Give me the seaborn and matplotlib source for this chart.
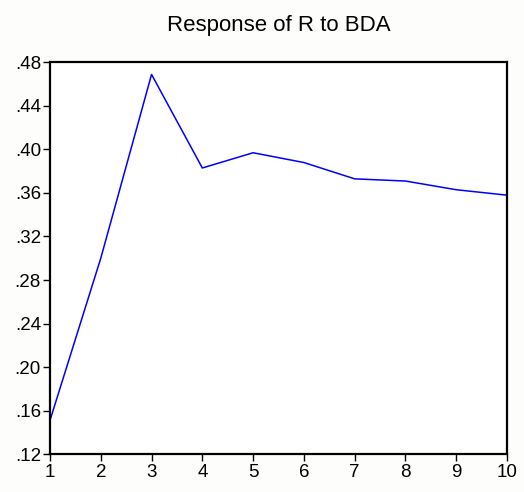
import matplotlib
matplotlib.use('Agg')
import matplotlib.pyplot as plt
import seaborn as sns
import pandas as pd

# Impulse response values
periods = [1, 2, 3, 4, 5, 6, 7, 8, 9, 10]
response = [0.151, 0.300, 0.469, 0.383, 0.397, 0.388, 0.373, 0.371, 0.363, 0.358]
y_ticks = [0.12, 0.16, 0.20, 0.24, 0.28, 0.32, 0.36, 0.40, 0.44, 0.48]
y_tick_labels = ['.12', '.16', '.20', '.24', '.28', '.32', '.36', '.40', '.44', '.48']

df = pd.DataFrame({'period': periods, 'response': response})

sns.set_style('ticks')
plt.rcParams['font.family'] = ['Liberation Sans', 'DejaVu Sans']

fig = plt.figure(figsize=(5.24, 4.92), dpi=100, facecolor='#fdfdfb')
ax = fig.add_axes([0.0954, 0.0772, 0.8722, 0.7958])
ax.set_facecolor('white')

sns.lineplot(data=df, x='period', y='response', color='#0000ff', linewidth=1.1, ax=ax)

ax.set_xlim(1, 10)
ax.set_ylim(0.12, 0.48)
ax.set_xticks(periods)
ax.set_yticks(y_ticks)
ax.set_yticklabels(y_tick_labels)
ax.set_xlabel('')
ax.set_ylabel('')
ax.set_title('Response of R to BDA', fontsize=16, pad=23, color='black')

for side in ['left', 'right', 'top', 'bottom']:
    ax.spines[side].set_linewidth(1.6)
    ax.spines[side].set_color('black')
ax.tick_params(axis='both', direction='out', length=5, width=1, labelsize=13.5, colors='black')
ax.tick_params(axis='x', pad=2)
ax.tick_params(axis='y', pad=1.5)

fig.savefig('out.png', dpi=100, facecolor=fig.get_facecolor())
